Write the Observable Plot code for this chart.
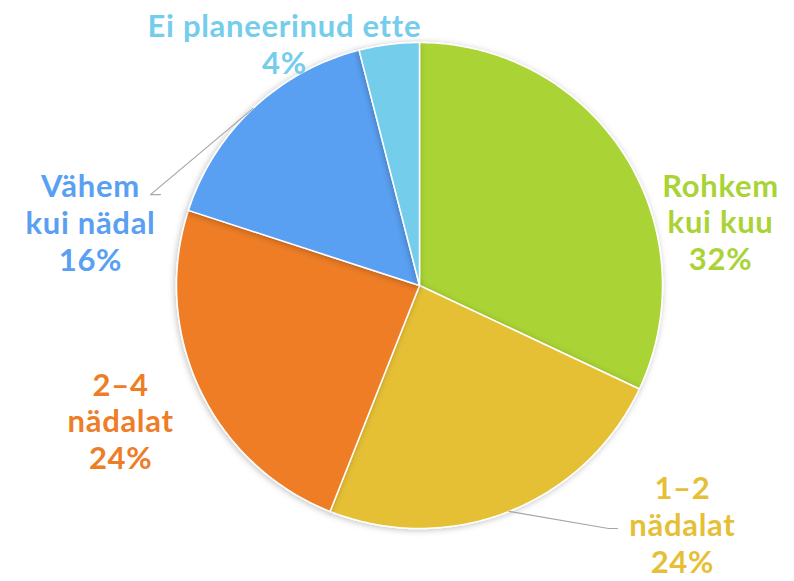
<!DOCTYPE html>
<html><head><meta charset="utf-8">
<script src="https://cdn.jsdelivr.net/npm/d3@7"></script>
<script src="https://cdn.jsdelivr.net/npm/@observablehq/plot@0.6"></script>
<style>html,body{margin:0;padding:0;background:#fff;} svg text{letter-spacing:0.7px;}</style>
</head><body><div id="chart"></div>
<script>
const categories = ["Rohkem kui kuu", "1–2 nädalat", "2–4 nädalat", "Vähem kui nädal", "Ei planeerinud ette"];
const values = [32, 24, 24, 16, 4];
const labelLines = [["Rohkem", "kui kuu"], ["1–2", "nädalat"], ["2–4", "nädalat"], ["Vähem", "kui nädal"], ["Ei planeerinud ette"]];
const colors = ["#AAD336", "#E5C036", "#EE7D27", "#5AA0F2", "#75CDEC"];

// layout (in radius units, center = 0,0, y up)
const labelPos = [[1.239, 0.263], [1.082, -0.982], [-1.230, -0.556], [-1.354, 0.259], [-0.556, 0.996]];
const leaders = {1: [[0.778, -1.0], [0.815, -1.0]], 3: [[-1.107, 0.374], [-1.066, 0.374]]};

const W = 794, H = 581, R = 243, CX = 419, CY = 285;
const total = d3.sum(values);
let cum = 0;
const slices = values.map((v, i) => {
  const a0 = cum / total * 2 * Math.PI; cum += v;
  const a1 = cum / total * 2 * Math.PI;
  return {i, a0, a1, mid: (a0 + a1) / 2};
});
const slicePts = slices.map(s => {
  const pts = [{u: 0, v: 0}];
  const n = Math.max(2, Math.ceil((s.a1 - s.a0) / (Math.PI / 180)));
  for (let k = 0; k <= n; k++) {
    const a = s.a0 + (s.a1 - s.a0) * k / n;
    pts.push({u: Math.sin(a), v: Math.cos(a)});
  }
  pts.push({u: 0, v: 0});
  return pts;
});
const leaderLines = Object.entries(leaders).map(([i, rest]) => {
  const s = slices[+i];
  return [{u: Math.sin(s.mid), v: Math.cos(s.mid)}, ...rest.map(([u, v]) => ({u, v}))];
});
const labels = categories.map((c, i) => ({
  u: labelPos[i][0], v: labelPos[i][1],
  text: [...labelLines[i], values[i] + "%"].join("\n"),
  color: colors[i]
}));

const chart = Plot.plot({
  width: W, height: H, margin: 0,
  x: {domain: [-CX / R, (W - CX) / R], range: [0, W], axis: null},
  y: {domain: [-(H - CY) / R, CY / R], range: [H, 0], axis: null},
  color: {type: "identity"},
  marks: [
    ...slicePts.map((pts, i) => Plot.line(pts, {x: "u", y: "v", fill: colors[i], stroke: "white", strokeWidth: 1.5, strokeLinejoin: "round"})),
    ...leaderLines.map(pts => Plot.line(pts, {x: "u", y: "v", stroke: "#A6A6A6", strokeWidth: 1.2})),
    Plot.text(labels, {x: "u", y: "v", text: "text", fill: "color", fontSize: 31, fontWeight: "bold", fontFamily: "Lato", lineHeight: 1.19, textAnchor: "middle"})
  ]
});
// subtle shadow under the pie
const ns = "http://www.w3.org/2000/svg";
const defs = document.createElementNS(ns, "defs");
defs.innerHTML = '<filter id="sh" x="-20%" y="-20%" width="140%" height="140%"><feDropShadow dx="-1" dy="1" stdDeviation="3" flood-color="#000" flood-opacity="0.25"/></filter>';
chart.insertBefore(defs, chart.firstChild);
const lineGroups = chart.querySelectorAll('g[aria-label="line"]');
for (let i = 0; i < categories.length; i++) lineGroups[i].setAttribute("filter", "url(#sh)");
document.getElementById("chart").appendChild(chart);
</script></body></html>
